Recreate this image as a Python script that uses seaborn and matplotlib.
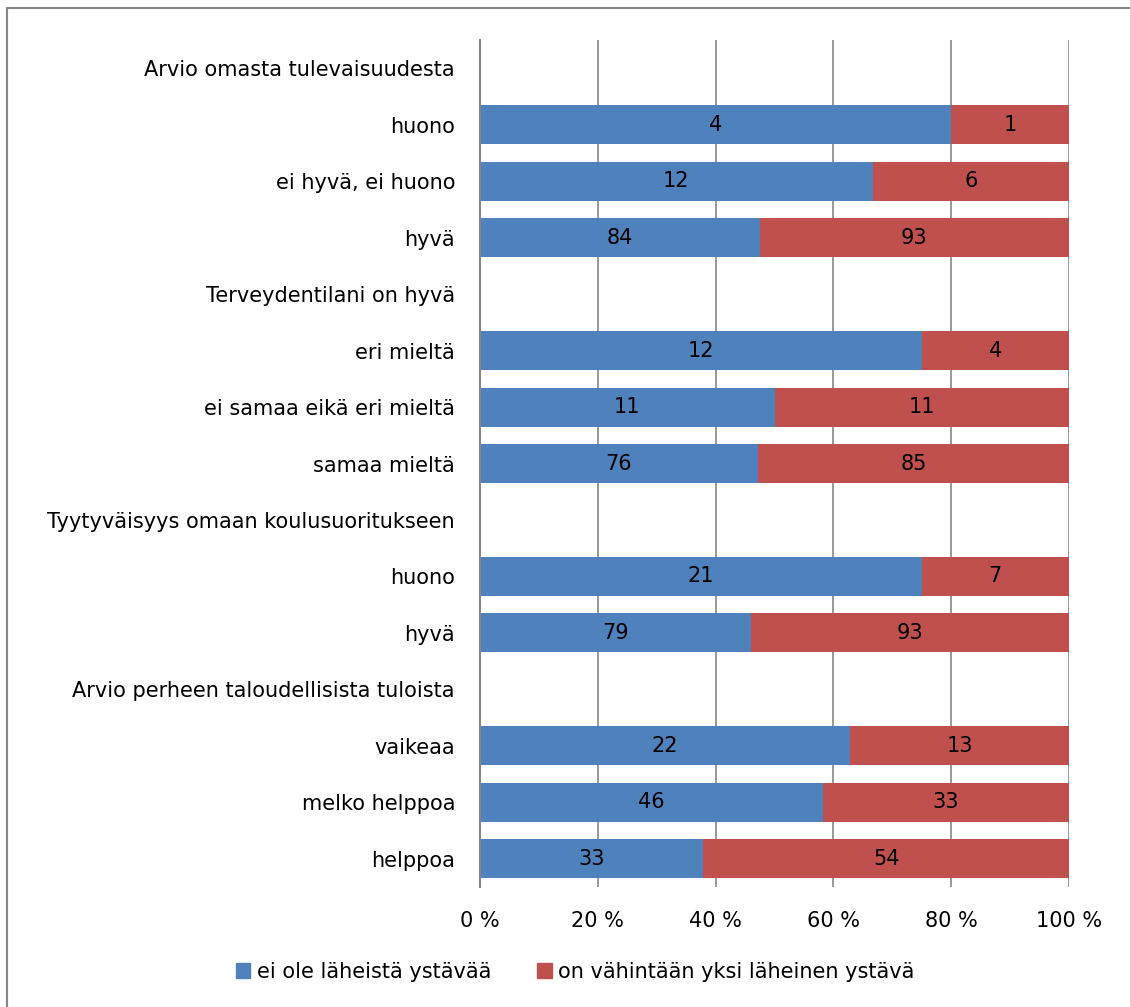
import matplotlib
matplotlib.use('Agg')
import matplotlib.pyplot as plt
from matplotlib import font_manager
from matplotlib.patches import Patch
from matplotlib.lines import Line2D
import seaborn as sns
import numpy as np
import pandas as pd

# rows from top to bottom; headers have no bars
labels = ["Arvio omasta tulevaisuudesta", "huono", "ei hyvä, ei huono", "hyvä",
          "Terveydentilani on hyvä", "eri mieltä", "ei samaa eikä eri mieltä", "samaa mieltä",
          "Tyytyväisyys omaan koulusuoritukseen", "huono ", "hyvä ",
          "Arvio perheen taloudellisista tuloista", "vaikeaa", "melko helppoa", "helppoa"]
no_friend = [np.nan, 4, 12, 84, np.nan, 12, 11, 76, np.nan, 21, 79, np.nan, 22, 46, 33]
has_friend = [np.nan, 1, 6, 93, np.nan, 4, 11, 85, np.nan, 7, 93, np.nan, 13, 33, 54]
series_names = ["ei ole läheistä ystävää", "on vähintään yksi läheinen ystävä"]
x_ticks = [0, 20, 40, 60, 80, 100]

blue = "#4F81BD"
red = "#C0504D"
grid_col = "#868686"

sns.set_theme(style="white")
names = {f.name for f in font_manager.fontManager.ttflist}
fam = "Liberation Sans Narrow" if "Liberation Sans Narrow" in names else "DejaVu Sans"
plt.rcParams['font.family'] = [fam, 'DejaVu Sans']
plt.rcParams['text.color'] = 'black'
plt.rcParams['xtick.labelcolor'] = 'black'
plt.rcParams['ytick.labelcolor'] = 'black'

df = pd.DataFrame({"label": labels, "a": no_friend, "b": has_friend})
df["total"] = df["a"] + df["b"]
df["pct_a"] = df["a"] / df["total"] * 100
df["pct_all"] = df["total"] / df["total"] * 100

fig = plt.figure(figsize=(11.3, 10.07), dpi=100)
ax = fig.add_axes([480 / 1130, 1 - 887 / 1007, 589 / 1130, 847 / 1007])

sns.barplot(data=df, y="label", x="pct_all", order=labels, color=red,
            saturation=1, width=0.69, ax=ax, errorbar=None, linewidth=0)
sns.barplot(data=df, y="label", x="pct_a", order=labels, color=blue,
            saturation=1, width=0.69, ax=ax, errorbar=None, linewidth=0)

for i, row in df.iterrows():
    if np.isnan(row["a"]):
        continue
    ax.text(row["pct_a"] / 2, i, f"{int(row['a'])}", ha="center", va="center",
            fontsize=15, color="black")
    ax.text(row["pct_a"] + (100 - row["pct_a"]) / 2, i, f"{int(row['b'])}",
            ha="center", va="center", fontsize=15, color="black")

ax.set_xlim(0, 100)
ax.set_ylim(len(labels) - 0.5, -0.5)
ax.set_xticks(x_ticks)
ax.set_xticklabels([f"{t} %" for t in x_ticks], fontsize=15)
ax.set_yticklabels([l.strip() for l in labels], fontsize=15)
ax.set_xlabel("")
ax.set_ylabel("")
ax.set_axisbelow(True)
ax.xaxis.grid(True, color=grid_col, linewidth=1.2)
ax.yaxis.grid(False)
for s in ["top", "right", "bottom"]:
    ax.spines[s].set_visible(False)
ax.spines["left"].set_color(grid_col)
ax.spines["left"].set_linewidth(1.5)
ax.tick_params(axis="x", length=0, pad=17)
ax.tick_params(axis="y", length=0, pad=18)

handles = [Patch(color=blue, label=series_names[0]), Patch(color=red, label=series_names[1])]
fig.legend(handles=handles, loc="center", bbox_to_anchor=(575 / 1130, 1 - 972 / 1007), ncol=2,
           frameon=False, fontsize=15, handlelength=0.7, handleheight=0.7,
           handletextpad=0.3, columnspacing=2.2)

# outer frame: only top and left edges are visible
fig.add_artist(Line2D([7 / 1130, 1], [1 - 8 / 1007, 1 - 8 / 1007], transform=fig.transFigure,
                      color=grid_col, linewidth=1.5))
fig.add_artist(Line2D([7 / 1130, 7 / 1130], [0, 1 - 8 / 1007], transform=fig.transFigure,
                      color=grid_col, linewidth=1.5))

fig.savefig("out.png", dpi=100, facecolor="white")
